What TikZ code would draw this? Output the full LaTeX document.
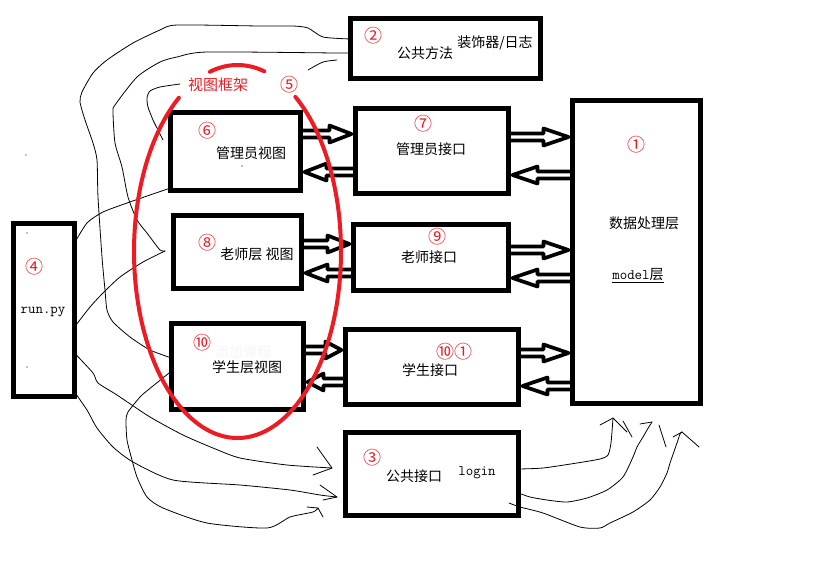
\documentclass[tikz,border=0pt]{standalone}
\usepackage{fontspec}
\newfontfamily\cjk{Noto Sans CJK SC}
\usetikzlibrary{calc,backgrounds}
\definecolor{paintred}{RGB}{237,28,36}

\tikzset{
  box/.style={draw=black, line width=4.5pt, inner sep=0pt, outer sep=0pt},
  lbl/.style={font=\cjk\fontsize{14pt}{14pt}\selectfont, inner sep=0pt},
  num/.style={text=paintred, font=\cjk\fontsize{18pt}{18pt}\selectfont, inner sep=0pt},
  code/.style={font=\ttfamily\fontsize{14.5pt}{14.5pt}\selectfont, inner sep=0pt},
  fat/.style={draw=black, fill=white, line width=3.7pt, line join=round},
  hand/.style={draw=black, line width=0.8pt, line cap=round, line join=round},
  frame/.style={draw=paintred, line width=4pt, line cap=round},
}

% hollow block arrow: [head length] tail anchor, target anchor, screen y
\newcommand{\fatarrow}[4][22]{%
  \path[fat] let \p1=(#2 |- 0,#4), \p2=(#3 |- 0,#4),
    \n1={(\x2-\x1)/abs(\x2-\x1)},
    \n2={\x2-4*\n1},
    \n3={\x2-(4+#1)*\n1} in
    (\x1,\y1+3.5pt) -- ({\n3*1pt},\y1+3.5pt) -- ({\n3*1pt},\y1+8.5pt)
    -- ({\n2*1pt},\y1) -- ({\n3*1pt},\y1-8.5pt) -- ({\n3*1pt},\y1-3.5pt)
    -- (\x1,\y1-3.5pt) -- cycle;}

\begin{document}
\begin{tikzpicture}[x=1pt,y=-1pt]
\useasboundingbox (0,0) rectangle (833,566);

% ---------- blocks ----------
\node[box, minimum width=190pt, minimum height=60pt]  (b2)  at (445.5,48.5) {};
\node[box, minimum width=130pt, minimum height=78pt]  (b6)  at (235.5,151.5) {};
\node[box, minimum width=153pt, minimum height=85pt]  (b7)  at (432,151) {};
\node[box, minimum width=128pt, minimum height=303pt] (b1)  at (636.5,252) {};
\node[box, minimum width=61pt,  minimum height=173pt] (b4)  at (44,310) {};
\node[box, minimum width=128pt, minimum height=73pt]  (b8)  at (237.5,252) {};
\node[box, minimum width=155pt, minimum height=66pt]  (b9)  at (431,257.5) {};
\node[box, minimum width=132pt, minimum height=86pt]  (b10) at (237.5,366.5) {};
\node[box, minimum width=173pt, minimum height=75pt]  (b11) at (432,367) {};
\node[box, minimum width=173pt, minimum height=83pt]  (b3)  at (432,474) {};

% ---------- hollow arrows between layers ----------
\begin{scope}[on background layer]
  \fill[white] (0,0) rectangle (833,566);
  \fatarrow{b6.east}{b7.west}{134}
  \fatarrow{b7.west}{b6.east}{172}
  \fatarrow[25]{b7.east}{b1.west}{137}
  \fatarrow[25]{b1.west}{b7.east}{175}
  \fatarrow{b8.east}{b9.west}{244}
  \fatarrow{b9.west}{b8.east}{273}
  \fatarrow[25]{b9.east}{b1.west}{250}
  \fatarrow[25]{b1.west}{b9.east}{278}
  \fatarrow[16]{b10.east}{b11.west}{350}
  \fatarrow[16]{b11.west}{b10.east}{382}
  \fatarrow[25]{b11.east}{b1.west}{353}
  \fatarrow[25]{b1.west}{b11.east}{386}
\end{scope}

% ---------- free ends of the hand-drawn strokes ----------
\coordinate (k8) at (165,251);
\coordinate (s1) at (337,60);
\coordinate (s2) at (308,70);
\coordinate (i1) at (180,84);
\coordinate (i2) at (163,140);
\coordinate (tA) at (332,468);
\coordinate (tB) at (337,497);
\coordinate (tC) at (318,508);
\coordinate (tD) at (613,418);
\coordinate (tE) at (652,422);
\coordinate (tF) at (682,432);
\coordinate (f0) at (509,503);

% ---------- hand-drawn connections ----------
\draw[hand] plot[smooth, tension=0.4] coordinates {(b2.west |- 0,39) (323,37) (308,28) (293,26) (260,26) (177,25) (160,30) (133,43) (107,60) (93,73) (82,92) (80,102) (85,120) (93,143) (97,160) (98,197) (102,257) (105,290) (107,310) (113,322) (130,337) (150,350) (b10.west |- 0,358)};
\draw[hand] plot[smooth, tension=0.4] coordinates {(b2.west |- 0,53) (337,53) (207,52) (177,57) (160,62) (137,77) (115,105) (113,112) (115,143) (122,167) (128,197) (137,220) (147,233) (160,250) (k8)};
\draw[hand] plot[smooth, tension=0.4] coordinates {(b4.east |- 0,327) (90,307) (103,293) (120,277) (143,262) (k8)};
\draw[hand] plot[smooth, tension=0.4] coordinates {(s1) (323,62) (s2)};
\draw[hand] plot[smooth, tension=0.4] coordinates {(i1) (160,87) (150,91) (147,98) (148,107) (153,120) (158,130) (i2)};
\draw[hand] plot[smooth, tension=0.4] coordinates {(b4.east |- 0,243) (87,223) (103,212) (127,203) (150,195) (b6.west |- 0,188)};

% towards the common interface
\draw[hand] plot[smooth, tension=0.4] coordinates {(b4.east |- 0,353) (93,373) (98,383) (117,395) (150,417) (183,435) (213,448) (240,458) (287,465) (tA)};
\draw[hand] (317,447) -- (tA) -- (313,475);
\draw[hand] plot[smooth, tension=0.4] coordinates {(b4.east |- 0,392) (87,410) (97,428) (113,447) (133,462) (173,480) (240,485) (290,490) (320,495) (tB)};
\draw[hand] (320,485) -- (tB) -- (323,500);
\draw[hand] plot[smooth, tension=0.4] coordinates {(b10.west |- 0,371) (148,390) (140,397) (128,412) (126,420) (127,440) (132,460) (137,477) (147,497) (163,508) (207,523) (267,528) (290,517) (313,512) (tC)};
\draw[hand] (307,507) -- (tC) -- (323,517);

% from the common interface up to the data layer
\draw[hand] plot[smooth, tension=0.4] coordinates {(b3.east |- 0,469) (543,468) (577,463) (600,459) (608,455) (611,443) (tD)};
\draw[hand] (600,425) -- (tD) -- (627,432);
\draw[hand] (623,421) -- (632,437);
\draw[hand] plot[smooth, tension=0.4] coordinates {(b3.east |- 0,493) (530,497) (547,500) (567,502) (587,498) (607,490) (623,477) (633,457) (637,447) (643,437) (647,430) (tE)};
\draw[hand] (640,424) -- (tE);
\draw[hand] (659,425) -- (666,447);
\draw[hand] plot[smooth, tension=0.4] coordinates {(f0) (520,507) (543,513) (580,527) (600,528) (610,523) (633,512) (650,500) (660,487) (667,473) (670,463) (677,443) (680,434) (tF)};
\draw[hand] (673,437) -- (tF) -- (699,447);

% stray specks
\fill (26,155) circle (0.7pt);
\fill (27,233) circle (0.7pt);
\fill (27,367) circle (0.7pt);
\fill[gray] (242,166) circle (0.8pt);

% ---------- labels ----------
\node[num] (n2) at (373,36) {②};
\node[lbl] (l2a) at (425,53) {公共方法};
\node[lbl] (l2b) at (495,43) {装饰器/日志};

\node[num] (n7) at (423,124) {⑦};
\node[lbl] (l7) at (431,149) {管理员接口};

\node[num] (n1) at (636,145) {①};
\node[lbl] (l1) at (644,223) {数据处理层};
\node[inner sep=0pt] (l1m) at (638,275) {\ttfamily\fontsize{14.5pt}{14.5pt}\selectfont model\cjk\fontsize{14pt}{14pt}\selectfont 层};
\draw[line width=0.9pt] ([yshift=-1pt]l1m.south west) -- ([yshift=-1pt]l1m.south east);

\node[num] (n6) at (207,131) {⑥};
\node[lbl] (l6) at (251,153) {管理员视图};

\node[num] (n4) at (34,267) {④};
\node[code] (l4) at (43,312) {run.py};

\node[num] (n8) at (207,243) {⑧};
\node[lbl] (l8) at (257,254) {老师层 视图};

\node[num] (n9) at (437,237) {⑨};
\node[lbl] (l9) at (429,257) {老师接口};

\node[num] (n10) at (202,343) {⑩};
\node[lbl, text=gray!7] (l10g) at (243,352) {添加课程};
\node[lbl] (l10) at (247,367) {学生层视图};

\node[num] (n11) at (454,352) {⑩①};
\node[lbl] (l11) at (430,370) {学生接口};

\node[num] (n3) at (372,458) {③};
\node[lbl] (l3) at (414,476) {公共接口};
\node[code] (l3b) at (477,473) {login};

% ---------- view frame (red ring, broken by its caption) ----------
\node[lbl, text=paintred, font=\cjk\fontsize{15pt}{15pt}\selectfont] (vf) at (218,85) {视图框架};
\node[num] (n5) at (289,85) {⑤};
\draw[frame] plot[domain=75:105.5, samples=30] ({237.5+103.5*cos(\x)}, {251.5-186.5*sin(\x)});
\draw[frame] plot[domain=124.5:416, samples=200] ({237.5+103.5*cos(\x)}, {251.5-186.5*sin(\x)});
\end{tikzpicture}
\end{document}
